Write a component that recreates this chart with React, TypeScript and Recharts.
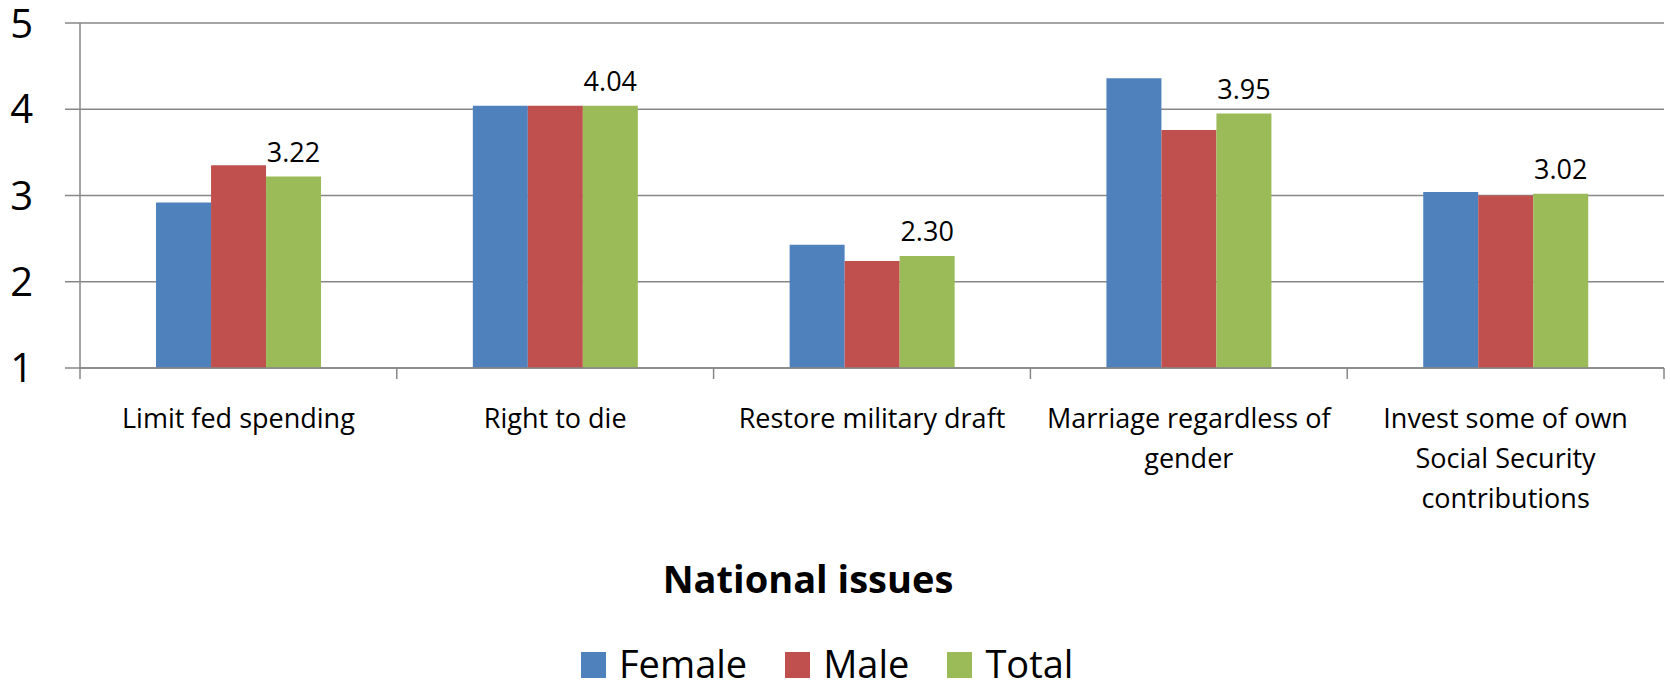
import { BarChart, Bar, XAxis, YAxis, CartesianGrid, LabelList } from 'recharts';

const categories = [
  'Limit fed spending',
  'Right to die',
  'Restore military draft',
  'Marriage regardless of\ngender',
  'Invest some of own\nSocial Security\ncontributions',
];
const female = [2.92, 4.04, 2.43, 4.36, 3.04];
const male = [3.35, 4.04, 2.24, 3.76, 3.0];
const total = [3.22, 4.04, 2.3, 3.95, 3.02];
const yTicks = [1, 2, 3, 4, 5];

const seriesNames = ['Female', 'Male', 'Total'];
const seriesColors = ['#4F81BD', '#C0504D', '#9BBB59'];

const W = 1670;
const H = 681;
const M = { top: 23, right: 6, left: 15, bottom: 253 };
const Y_AXIS_W = 65;
const PLOT_W = W - M.left - M.right - Y_AXIS_W;
const HALF_BAND = PLOT_W / categories.length / 2;
const GRID = '#878787';
const FONT = '"Open Sans", sans-serif';

const data = categories.map((name, i) => ({
  name,
  female: female[i],
  male: male[i],
  total: total[i],
}));

function CategoryTick(props: any) {
  const { x, y, payload, index } = props;
  const lines = String(payload.value).split('\n');
  const last = index === categories.length - 1;
  return (
    <g>
      <line x1={x - HALF_BAND} x2={x - HALF_BAND} y1={y} y2={y + 11} stroke={GRID} strokeWidth={1.5} />
      {last && (
        <line x1={x + HALF_BAND} x2={x + HALF_BAND} y1={y} y2={y + 11} stroke={GRID} strokeWidth={1.5} />
      )}
      <text x={x} y={y} textAnchor="middle" fontSize={27} fontFamily={FONT} fill="#000">
        {lines.map((l, i) => (
          <tspan key={i} x={x} y={y + 60 + i * 40}>
            {l}
          </tspan>
        ))}
      </text>
    </g>
  );
}

export default function App() {
  return (
    <div style={{ position: 'absolute', left: 0, top: 0, width: W, height: H, background: '#fff', fontFamily: FONT }}>
      <BarChart width={W} height={H} data={data} margin={M} barGap={0} barCategoryGap="24%">
        <CartesianGrid vertical={false} stroke={GRID} strokeWidth={1.5} />
        <XAxis
          dataKey="name"
          interval={0}
          height={60}
          tickSize={0}
          tickMargin={0}
          tick={<CategoryTick />}
          axisLine={{ stroke: GRID, strokeWidth: 1.5 }}
        />
        <YAxis
          domain={[1, 5]}
          ticks={yTicks}
          width={Y_AXIS_W}
          tickSize={15}
          tickMargin={32}
          tick={{ fontSize: 40, fill: '#000', fontFamily: FONT }}
          axisLine={{ stroke: GRID, strokeWidth: 1.5 }}
          tickLine={{ stroke: GRID, strokeWidth: 1.5 }}
        />
        <Bar dataKey="female" name="Female" fill={seriesColors[0]} isAnimationActive={false} />
        <Bar dataKey="male" name="Male" fill={seriesColors[1]} isAnimationActive={false} />
        <Bar dataKey="total" name="Total" fill={seriesColors[2]} isAnimationActive={false}>
          <LabelList
            dataKey="total"
            position="top"
            offset={15}
            formatter={(v: any) => Number(v).toFixed(2)}
            fontSize={27}
            fontFamily={FONT}
            fill="#000"
          />
        </Bar>
      </BarChart>
      <div
        style={{
          position: 'absolute',
          left: 0,
          width: 1616,
          top: 559,
          textAlign: 'center',
          fontSize: 38,
          lineHeight: '38px',
          fontWeight: 700,
          color: '#000',
        }}
      >
        National issues
      </div>
      <div style={{ position: 'absolute', left: 581, top: 644, display: 'flex', alignItems: 'flex-start' }}>
        {seriesNames.map((n, i) => (
          <div key={n} style={{ display: 'flex', alignItems: 'flex-start', marginRight: 38 }}>
            <div style={{ width: 25, height: 26, marginTop: 8, marginRight: 13, background: seriesColors[i] }} />
            <span style={{ fontSize: 38, lineHeight: '38px', color: '#000' }}>{n}</span>
          </div>
        ))}
      </div>
    </div>
  );
}
